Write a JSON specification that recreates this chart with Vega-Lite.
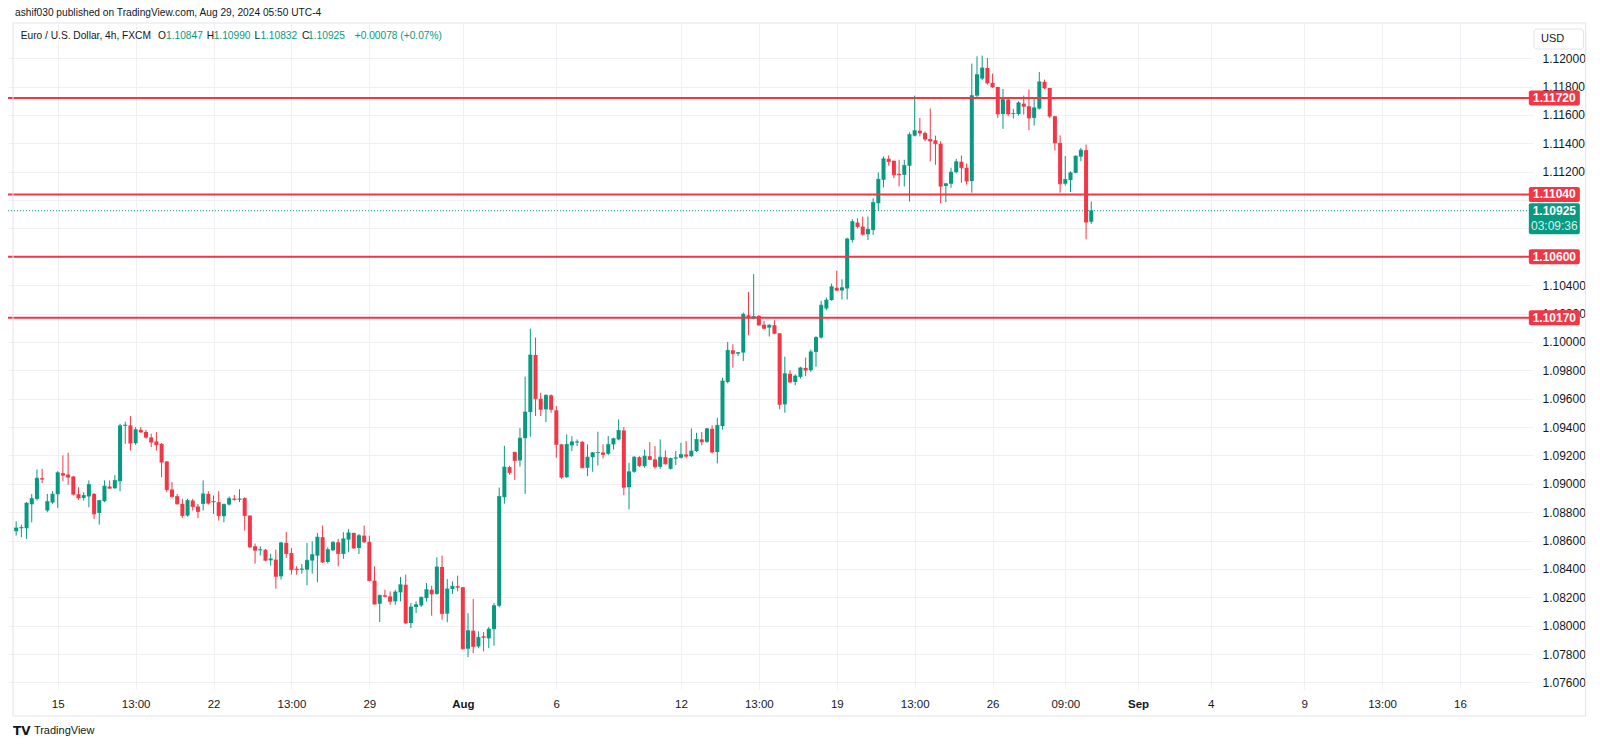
{
  "$schema": "https://vega.github.io/schema/vega-lite/v6.json",
  "width": 1525,
  "height": 666,
  "autosize": {"type": "none"},
  "padding": {"left": 8, "top": 23, "right": 67, "bottom": 58},
  "background": "white",
  "view": {"stroke": null},
  "config": {"font": "Liberation Sans"},
  "datasets": {
    "candles": [
      {"i":-8,"o":1.08666,"h":1.08736,"l":1.08635,"c":1.08689},
      {"i":-7,"o":1.08687,"h":1.08713,"l":1.08624,"c":1.08692},
      {"i":-6,"o":1.08687,"h":1.08871,"l":1.08612,"c":1.08864},
      {"i":-5,"o":1.08856,"h":1.08929,"l":1.08729,"c":1.08896},
      {"i":-4,"o":1.08894,"h":1.09101,"l":1.08882,"c":1.09040},
      {"i":-3,"o":1.09040,"h":1.09106,"l":1.09005,"c":1.09033},
      {"i":-2,"o":1.08812,"h":1.08929,"l":1.08800,"c":1.08875},
      {"i":-1,"o":1.08868,"h":1.08948,"l":1.08859,"c":1.08927},
      {"i":0,"o":1.08927,"h":1.09089,"l":1.08831,"c":1.09078},
      {"i":1,"o":1.09075,"h":1.09200,"l":1.09019,"c":1.09061},
      {"i":2,"o":1.09066,"h":1.09219,"l":1.08993,"c":1.09047},
      {"i":3,"o":1.09052,"h":1.09056,"l":1.08918,"c":1.08927},
      {"i":4,"o":1.08927,"h":1.08976,"l":1.08887,"c":1.08901},
      {"i":5,"o":1.08901,"h":1.08941,"l":1.08882,"c":1.08918},
      {"i":6,"o":1.08911,"h":1.09024,"l":1.08835,"c":1.08995},
      {"i":7,"o":1.08929,"h":1.08935,"l":1.08753,"c":1.08788},
      {"i":8,"o":1.08795,"h":1.08887,"l":1.08713,"c":1.08882},
      {"i":9,"o":1.08878,"h":1.09024,"l":1.08871,"c":1.08984},
      {"i":10,"o":1.08981,"h":1.09024,"l":1.08965,"c":1.08969},
      {"i":11,"o":1.08969,"h":1.09061,"l":1.08965,"c":1.09024},
      {"i":12,"o":1.09019,"h":1.09424,"l":1.08948,"c":1.09409},
      {"i":13,"o":1.09409,"h":1.09438,"l":1.09282,"c":1.09414},
      {"i":14,"o":1.09412,"h":1.09478,"l":1.09235,"c":1.09287},
      {"i":15,"o":1.09287,"h":1.09400,"l":1.09275,"c":1.09381},
      {"i":16,"o":1.09381,"h":1.09400,"l":1.09360,"c":1.09365},
      {"i":17,"o":1.09365,"h":1.09381,"l":1.09318,"c":1.09329},
      {"i":18,"o":1.09327,"h":1.09353,"l":1.09259,"c":1.09294},
      {"i":19,"o":1.09299,"h":1.09365,"l":1.09235,"c":1.09275},
      {"i":20,"o":1.09282,"h":1.09287,"l":1.09047,"c":1.09153},
      {"i":21,"o":1.09158,"h":1.09160,"l":1.08941,"c":1.08958},
      {"i":22,"o":1.08960,"h":1.09012,"l":1.08901,"c":1.08911},
      {"i":23,"o":1.08913,"h":1.08929,"l":1.08854,"c":1.08859},
      {"i":24,"o":1.08859,"h":1.08894,"l":1.08760,"c":1.08776},
      {"i":25,"o":1.08776,"h":1.08894,"l":1.08769,"c":1.08882},
      {"i":26,"o":1.08882,"h":1.08894,"l":1.08812,"c":1.08840},
      {"i":27,"o":1.08840,"h":1.08859,"l":1.08758,"c":1.08805},
      {"i":28,"o":1.08859,"h":1.09024,"l":1.08812,"c":1.08929},
      {"i":29,"o":1.08929,"h":1.08948,"l":1.08854,"c":1.08864},
      {"i":30,"o":1.08871,"h":1.08918,"l":1.08788,"c":1.08875},
      {"i":31,"o":1.08871,"h":1.08948,"l":1.08741,"c":1.08776},
      {"i":32,"o":1.08772,"h":1.08859,"l":1.08729,"c":1.08856},
      {"i":33,"o":1.08854,"h":1.08911,"l":1.08847,"c":1.08896},
      {"i":34,"o":1.08896,"h":1.08922,"l":1.08882,"c":1.08889},
      {"i":35,"o":1.08889,"h":1.08962,"l":1.08871,"c":1.08894},
      {"i":36,"o":1.08899,"h":1.08906,"l":1.08671,"c":1.08776},
      {"i":37,"o":1.08776,"h":1.08778,"l":1.08548,"c":1.08555},
      {"i":38,"o":1.08560,"h":1.08579,"l":1.08438,"c":1.08532},
      {"i":39,"o":1.08532,"h":1.08560,"l":1.08496,"c":1.08536},
      {"i":40,"o":1.08536,"h":1.08541,"l":1.08454,"c":1.08461},
      {"i":41,"o":1.08461,"h":1.08508,"l":1.08424,"c":1.08471},
      {"i":42,"o":1.08466,"h":1.08536,"l":1.08261,"c":1.08348},
      {"i":43,"o":1.08348,"h":1.08591,"l":1.08325,"c":1.08584},
      {"i":44,"o":1.08584,"h":1.08661,"l":1.08478,"c":1.08508},
      {"i":45,"o":1.08513,"h":1.08548,"l":1.08360,"c":1.08395},
      {"i":46,"o":1.08402,"h":1.08419,"l":1.08360,"c":1.08395},
      {"i":47,"o":1.08395,"h":1.08435,"l":1.08367,"c":1.08400},
      {"i":48,"o":1.08395,"h":1.08584,"l":1.08285,"c":1.08461},
      {"i":49,"o":1.08459,"h":1.08595,"l":1.08367,"c":1.08501},
      {"i":50,"o":1.08494,"h":1.08654,"l":1.08306,"c":1.08624},
      {"i":51,"o":1.08624,"h":1.08706,"l":1.08442,"c":1.08449},
      {"i":52,"o":1.08449,"h":1.08553,"l":1.08438,"c":1.08536},
      {"i":53,"o":1.08532,"h":1.08595,"l":1.08525,"c":1.08588},
      {"i":54,"o":1.08588,"h":1.08612,"l":1.08419,"c":1.08508},
      {"i":55,"o":1.08506,"h":1.08659,"l":1.08471,"c":1.08612},
      {"i":56,"o":1.08607,"h":1.08682,"l":1.08518,"c":1.08654},
      {"i":57,"o":1.08654,"h":1.08656,"l":1.08541,"c":1.08548},
      {"i":58,"o":1.08548,"h":1.08647,"l":1.08506,"c":1.08635},
      {"i":59,"o":1.08635,"h":1.08706,"l":1.08584,"c":1.08591},
      {"i":60,"o":1.08591,"h":1.08635,"l":1.08313,"c":1.08318},
      {"i":61,"o":1.08318,"h":1.08419,"l":1.08148,"c":1.08153},
      {"i":62,"o":1.08155,"h":1.08219,"l":1.08026,"c":1.08214},
      {"i":63,"o":1.08214,"h":1.08254,"l":1.08200,"c":1.08207},
      {"i":64,"o":1.08207,"h":1.08242,"l":1.08148,"c":1.08172},
      {"i":65,"o":1.08172,"h":1.08254,"l":1.08148,"c":1.08238},
      {"i":66,"o":1.08235,"h":1.08344,"l":1.08172,"c":1.08289},
      {"i":67,"o":1.08289,"h":1.08360,"l":1.08014,"c":1.08019},
      {"i":68,"o":1.08019,"h":1.08160,"l":1.07984,"c":1.08132},
      {"i":69,"o":1.08132,"h":1.08172,"l":1.08089,"c":1.08148},
      {"i":70,"o":1.08143,"h":1.08207,"l":1.08132,"c":1.08200},
      {"i":71,"o":1.08195,"h":1.08301,"l":1.08172,"c":1.08254},
      {"i":72,"o":1.08254,"h":1.08282,"l":1.08071,"c":1.08224},
      {"i":73,"o":1.08224,"h":1.08482,"l":1.08219,"c":1.08414},
      {"i":74,"o":1.08414,"h":1.08494,"l":1.08042,"c":1.08085},
      {"i":75,"o":1.08085,"h":1.08329,"l":1.08024,"c":1.08259},
      {"i":76,"o":1.08259,"h":1.08313,"l":1.08224,"c":1.08278},
      {"i":77,"o":1.08278,"h":1.08353,"l":1.08242,"c":1.08271},
      {"i":78,"o":1.08271,"h":1.08273,"l":1.07831,"c":1.07838},
      {"i":79,"o":1.07838,"h":1.08089,"l":1.07779,"c":1.07965},
      {"i":80,"o":1.07965,"h":1.08188,"l":1.07807,"c":1.07854},
      {"i":81,"o":1.07854,"h":1.07960,"l":1.07842,"c":1.07918},
      {"i":82,"o":1.07925,"h":1.07955,"l":1.07819,"c":1.07918},
      {"i":83,"o":1.07911,"h":1.07991,"l":1.07842,"c":1.07976},
      {"i":84,"o":1.07976,"h":1.08160,"l":1.07859,"c":1.08141},
      {"i":85,"o":1.08141,"h":1.08974,"l":1.08130,"c":1.08911},
      {"i":86,"o":1.08906,"h":1.09268,"l":1.08860,"c":1.09118},
      {"i":87,"o":1.09118,"h":1.09127,"l":1.09064,"c":1.09080},
      {"i":88,"o":1.09224,"h":1.09228,"l":1.09028,"c":1.09165},
      {"i":89,"o":1.09165,"h":1.09393,"l":1.09122,"c":1.09322},
      {"i":90,"o":1.09322,"h":1.09755,"l":1.08929,"c":1.09506},
      {"i":91,"o":1.09506,"h":1.10094,"l":1.09332,"c":1.09908},
      {"i":92,"o":1.09908,"h":1.10031,"l":1.09478,"c":1.09600},
      {"i":93,"o":1.09600,"h":1.09642,"l":1.09478,"c":1.09525},
      {"i":94,"o":1.09525,"h":1.09631,"l":1.09435,"c":1.09624},
      {"i":95,"o":1.09624,"h":1.09631,"l":1.09501,"c":1.09525},
      {"i":96,"o":1.09518,"h":1.09548,"l":1.09184,"c":1.09278},
      {"i":97,"o":1.09278,"h":1.09282,"l":1.09035,"c":1.09047},
      {"i":98,"o":1.09047,"h":1.09348,"l":1.09042,"c":1.09278},
      {"i":99,"o":1.09271,"h":1.09336,"l":1.09231,"c":1.09296},
      {"i":100,"o":1.09292,"h":1.09313,"l":1.09266,"c":1.09296},
      {"i":101,"o":1.09296,"h":1.09301,"l":1.09110,"c":1.09113},
      {"i":102,"o":1.09113,"h":1.09278,"l":1.09054,"c":1.09188},
      {"i":103,"o":1.09188,"h":1.09224,"l":1.09085,"c":1.09219},
      {"i":104,"o":1.09219,"h":1.09367,"l":1.09129,"c":1.09221},
      {"i":105,"o":1.09221,"h":1.09278,"l":1.09179,"c":1.09207},
      {"i":106,"o":1.09212,"h":1.09336,"l":1.09202,"c":1.09278},
      {"i":107,"o":1.09278,"h":1.09325,"l":1.09242,"c":1.09318},
      {"i":108,"o":1.09313,"h":1.09454,"l":1.09306,"c":1.09376},
      {"i":109,"o":1.09376,"h":1.09400,"l":1.08920,"c":1.08976},
      {"i":110,"o":1.08976,"h":1.09148,"l":1.08819,"c":1.09085},
      {"i":111,"o":1.09085,"h":1.09195,"l":1.09078,"c":1.09188},
      {"i":112,"o":1.09188,"h":1.09195,"l":1.09118,"c":1.09129},
      {"i":113,"o":1.09125,"h":1.09242,"l":1.09113,"c":1.09195},
      {"i":114,"o":1.09195,"h":1.09294,"l":1.09167,"c":1.09172},
      {"i":115,"o":1.09172,"h":1.09266,"l":1.09106,"c":1.09120},
      {"i":116,"o":1.09120,"h":1.09313,"l":1.09106,"c":1.09188},
      {"i":117,"o":1.09188,"h":1.09235,"l":1.09136,"c":1.09141},
      {"i":118,"o":1.09106,"h":1.09184,"l":1.09101,"c":1.09179},
      {"i":119,"o":1.09179,"h":1.09231,"l":1.09132,"c":1.09184},
      {"i":120,"o":1.09184,"h":1.09289,"l":1.09179,"c":1.09207},
      {"i":121,"o":1.09207,"h":1.09301,"l":1.09179,"c":1.09195},
      {"i":122,"o":1.09195,"h":1.09391,"l":1.09190,"c":1.09231},
      {"i":123,"o":1.09231,"h":1.09360,"l":1.09224,"c":1.09313},
      {"i":124,"o":1.09313,"h":1.09365,"l":1.09271,"c":1.09296},
      {"i":125,"o":1.09296,"h":1.09395,"l":1.09289,"c":1.09388},
      {"i":126,"o":1.09388,"h":1.09412,"l":1.09214,"c":1.09224},
      {"i":127,"o":1.09224,"h":1.09466,"l":1.09144,"c":1.09412},
      {"i":128,"o":1.09407,"h":1.09748,"l":1.09383,"c":1.09725},
      {"i":129,"o":1.09718,"h":1.10000,"l":1.09708,"c":1.09941},
      {"i":130,"o":1.09941,"h":1.09984,"l":1.09819,"c":1.09918},
      {"i":131,"o":1.09918,"h":1.09929,"l":1.09901,"c":1.09925},
      {"i":132,"o":1.09925,"h":1.10207,"l":1.09866,"c":1.10195},
      {"i":133,"o":1.10188,"h":1.10353,"l":1.10047,"c":1.10172},
      {"i":134,"o":1.10165,"h":1.10478,"l":1.10160,"c":1.10179},
      {"i":135,"o":1.10184,"h":1.10188,"l":1.10113,"c":1.10120},
      {"i":136,"o":1.10122,"h":1.10148,"l":1.10089,"c":1.10096},
      {"i":137,"o":1.10101,"h":1.10125,"l":1.10038,"c":1.10118},
      {"i":138,"o":1.10118,"h":1.10153,"l":1.10054,"c":1.10061},
      {"i":139,"o":1.10061,"h":1.10063,"l":1.09525,"c":1.09560},
      {"i":140,"o":1.09560,"h":1.09896,"l":1.09501,"c":1.09776},
      {"i":141,"o":1.09776,"h":1.09800,"l":1.09708,"c":1.09718},
      {"i":142,"o":1.09718,"h":1.09772,"l":1.09694,"c":1.09760},
      {"i":143,"o":1.09754,"h":1.09825,"l":1.09742,"c":1.09817},
      {"i":144,"o":1.09817,"h":1.09890,"l":1.09759,"c":1.09801},
      {"i":145,"o":1.09801,"h":1.09947,"l":1.09789,"c":1.09930},
      {"i":146,"o":1.09930,"h":1.10041,"l":1.09825,"c":1.10031},
      {"i":147,"o":1.10031,"h":1.10290,"l":1.10024,"c":1.10259},
      {"i":148,"o":1.10236,"h":1.10313,"l":1.10224,"c":1.10295},
      {"i":149,"o":1.10295,"h":1.10412,"l":1.10290,"c":1.10389},
      {"i":150,"o":1.10382,"h":1.10502,"l":1.10358,"c":1.10365},
      {"i":151,"o":1.10363,"h":1.10441,"l":1.10299,"c":1.10382},
      {"i":152,"o":1.10377,"h":1.10735,"l":1.10299,"c":1.10726},
      {"i":153,"o":1.10719,"h":1.10865,"l":1.10700,"c":1.10848},
      {"i":154,"o":1.10841,"h":1.10872,"l":1.10801,"c":1.10813},
      {"i":155,"o":1.10813,"h":1.10884,"l":1.10749,"c":1.10759},
      {"i":156,"o":1.10759,"h":1.10884,"l":1.10719,"c":1.10794},
      {"i":157,"o":1.10789,"h":1.11013,"l":1.10754,"c":1.10983},
      {"i":158,"o":1.10978,"h":1.11195,"l":1.10926,"c":1.11147},
      {"i":159,"o":1.11143,"h":1.11308,"l":1.11089,"c":1.11291},
      {"i":160,"o":1.11291,"h":1.11315,"l":1.11242,"c":1.11272},
      {"i":161,"o":1.11277,"h":1.11279,"l":1.11155,"c":1.11178},
      {"i":162,"o":1.11185,"h":1.11284,"l":1.11096,"c":1.11178},
      {"i":163,"o":1.11178,"h":1.11284,"l":1.11096,"c":1.11244},
      {"i":164,"o":1.11242,"h":1.11477,"l":1.10990,"c":1.11461},
      {"i":165,"o":1.11454,"h":1.11736,"l":1.11449,"c":1.11489},
      {"i":166,"o":1.11489,"h":1.11579,"l":1.11449,"c":1.11473},
      {"i":167,"o":1.11473,"h":1.11484,"l":1.11414,"c":1.11430},
      {"i":168,"o":1.11430,"h":1.11645,"l":1.11272,"c":1.11416},
      {"i":169,"o":1.11421,"h":1.11454,"l":1.11249,"c":1.11397},
      {"i":170,"o":1.11397,"h":1.11415,"l":1.10978,"c":1.11098},
      {"i":171,"o":1.11099,"h":1.11122,"l":1.10986,"c":1.11115},
      {"i":172,"o":1.11115,"h":1.11228,"l":1.11087,"c":1.11197},
      {"i":173,"o":1.11197,"h":1.11291,"l":1.11188,"c":1.11270},
      {"i":174,"o":1.11270,"h":1.11314,"l":1.11122,"c":1.11228},
      {"i":175,"o":1.11228,"h":1.11258,"l":1.11110,"c":1.11134},
      {"i":176,"o":1.11134,"h":1.11962,"l":1.11052,"c":1.11736},
      {"i":177,"o":1.11736,"h":1.12013,"l":1.11720,"c":1.11884},
      {"i":178,"o":1.11856,"h":1.12018,"l":1.11844,"c":1.11931},
      {"i":179,"o":1.11931,"h":1.12001,"l":1.11814,"c":1.11826},
      {"i":180,"o":1.11826,"h":1.11891,"l":1.11790,"c":1.11797},
      {"i":181,"o":1.11797,"h":1.11799,"l":1.11579,"c":1.11607},
      {"i":182,"o":1.11607,"h":1.11783,"l":1.11502,"c":1.11708},
      {"i":183,"o":1.11708,"h":1.11720,"l":1.11591,"c":1.11607},
      {"i":184,"o":1.11607,"h":1.11643,"l":1.11575,"c":1.11610},
      {"i":185,"o":1.11607,"h":1.11697,"l":1.11596,"c":1.11685},
      {"i":186,"o":1.11680,"h":1.11736,"l":1.11603,"c":1.11661},
      {"i":187,"o":1.11661,"h":1.11779,"l":1.11493,"c":1.11579},
      {"i":188,"o":1.11579,"h":1.11713,"l":1.11525,"c":1.11650},
      {"i":189,"o":1.11645,"h":1.11903,"l":1.11638,"c":1.11833},
      {"i":190,"o":1.11833,"h":1.11849,"l":1.11783,"c":1.11790},
      {"i":191,"o":1.11790,"h":1.11792,"l":1.11579,"c":1.11591},
      {"i":192,"o":1.11591,"h":1.11593,"l":1.11349,"c":1.11403},
      {"i":193,"o":1.11403,"h":1.11455,"l":1.11052,"c":1.11115},
      {"i":194,"o":1.11115,"h":1.11310,"l":1.11103,"c":1.11145},
      {"i":195,"o":1.11141,"h":1.11204,"l":1.11056,"c":1.11192},
      {"i":196,"o":1.11192,"h":1.11314,"l":1.11188,"c":1.11310},
      {"i":197,"o":1.11306,"h":1.11368,"l":1.11274,"c":1.11352},
      {"i":198,"o":1.11352,"h":1.11392,"l":1.10723,"c":1.10845},
      {"i":199,"o":1.10847,"h":1.10990,"l":1.10832,"c":1.10925}
    ],
    "levels": [
      {"level":1.1172,"label":"1.11720"},
      {"level":1.1104,"label":"1.11040"},
      {"level":1.106,"label":"1.10600"},
      {"level":1.1017,"label":"1.10170"}
    ],
    "last": [
      {"price":1.10925,"label":"1.10925","countdown":"03:09:36"}
    ],
    "blank": [{}]
  },
  "layer": [
    {
      "data": {"name": "candles"},
      "mark": {"type": "rule", "strokeWidth": 1},
      "encoding": {
        "x": {
          "field": "i", "type": "quantitative",
          "scale": {"domain": [-8.61, 283.09], "nice": false, "zero": false},
          "axis": {
            "title": null,
            "values": [0,15,30,45,60,78,96,120,135,150,165,180,194,208,222,240,255,270],
            "tickCount": 40,
            "labelExpr": "['15','13:00','22','13:00','29','Aug','6','12','13:00','19','13:00','26','09:00','Sep','4','9','13:00','16'][indexof([0,15,30,45,60,78,96,120,135,150,165,180,194,208,222,240,255,270], datum.value)]",
            "labelFontWeight": {"condition": {"test": "datum.value == 78 || datum.value == 208", "value": "bold"}, "value": "normal"},
            "grid": true, "gridColor": "#eef0f3", "ticks": false, "domain": false,
            "labelFontSize": 11.5, "labelColor": "#131722", "labelPadding": 9,
            "labelOverlap": false, "labelFlush": false
          }
        },
        "y": {
          "field": "l", "type": "quantitative",
          "scale": {"domain": [1.07554, 1.12248], "nice": false, "zero": false},
          "axis": {
            "title": null, "orient": "right",
            "values": [1.076,1.078,1.080,1.082,1.084,1.086,1.088,1.090,1.092,1.094,1.096,1.098,1.100,1.102,1.104,1.106,1.108,1.110,1.112,1.114,1.116,1.118,1.120],
            "tickCount": 40,
            "labelExpr": "indexof([1106,1108,1110], round(datum.value*1000)) >= 0 ? '' : format(datum.value, '.5f')",
            "labelOverlap": false, "labelFlush": false,
            "grid": true, "gridColor": "#eef0f3", "ticks": false, "domain": false,
            "labelFontSize": 12, "labelColor": "#131722", "labelPadding": 9
          }
        },
        "y2": {"field": "h"},
        "color": {"condition": {"test": "datum.c >= datum.o", "value": "#089981"}, "value": "#f23645"}
      }
    },
    {
      "data": {"name": "candles"},
      "mark": {"type": "bar", "size": 4},
      "encoding": {
        "x": {"field": "i", "type": "quantitative", "title": null},
        "y": {"field": "o", "type": "quantitative", "title": null},
        "y2": {"field": "c"},
        "color": {"condition": {"test": "datum.c >= datum.o", "value": "#089981"}, "value": "#f23645"}
      }
    },
    {
      "data": {"name": "candles"},
      "mark": {"type": "tick", "orient": "horizontal", "size": 4, "thickness": 1},
      "encoding": {
        "x": {"field": "i", "type": "quantitative", "title": null},
        "y": {"field": "c", "type": "quantitative", "title": null},
        "color": {"condition": {"test": "datum.c >= datum.o", "value": "#089981"}, "value": "#f23645"}
      }
    },
    {
      "data": {"name": "levels"},
      "mark": {"type": "rule", "color": "#f23645", "strokeWidth": 2},
      "encoding": {
        "y": {"field": "level", "type": "quantitative", "title": null}
      }
    },
    {
      "data": {"name": "last"},
      "mark": {"type": "rule", "color": "#089981", "strokeWidth": 1, "strokeDash": [1, 2]},
      "encoding": {
        "y": {"field": "price", "type": "quantitative", "title": null}
      }
    },
    {
      "data": {"name": "levels"},
      "mark": {"type": "tick", "orient": "vertical", "size": 15, "thickness": 51, "color": "#f23645", "cornerRadius": 2, "opacity": 1},
      "encoding": {
        "x": {"datum": 288.16},
        "y": {"field": "level", "type": "quantitative", "title": null}
      }
    },
    {
      "data": {"name": "levels"},
      "mark": {"type": "text", "color": "white", "fontSize": 12, "fontWeight": "bold", "align": "center", "baseline": "middle"},
      "encoding": {
        "x": {"datum": 288.16},
        "y": {"field": "level", "type": "quantitative", "title": null},
        "text": {"field": "label"}
      }
    },
    {
      "data": {"name": "last"},
      "mark": {"type": "tick", "orient": "vertical", "size": 31, "thickness": 51, "color": "#089981", "cornerRadius": 2, "yOffset": 8, "opacity": 1},
      "encoding": {
        "x": {"datum": 288.16},
        "y": {"field": "price", "type": "quantitative", "title": null}
      }
    },
    {
      "data": {"name": "last"},
      "mark": {"type": "text", "color": "white", "fontSize": 12, "fontWeight": "bold", "align": "center", "baseline": "middle"},
      "encoding": {
        "x": {"datum": 288.16},
        "y": {"field": "price", "type": "quantitative", "title": null},
        "text": {"field": "label"}
      }
    },
    {
      "data": {"name": "last"},
      "mark": {"type": "text", "color": "#d9f2ee", "fontSize": 12, "align": "center", "baseline": "middle", "dy": 15},
      "encoding": {
        "x": {"datum": 288.16},
        "y": {"field": "price", "type": "quantitative", "title": null},
        "text": {"field": "countdown"}
      }
    },
    {
      "data": {"name": "blank"},
      "mark": {"type": "rect", "fill": "white", "stroke": "#e0e3eb", "strokeWidth": 1, "cornerRadius": 3},
      "encoding": {
        "x": {"datum": 284.24}, "x2": {"datum": 293.8},
        "y": {"datum": 1.122058}, "y2": {"datum": 1.120648}
      }
    },
    {
      "data": {"name": "blank"},
      "mark": {"type": "text", "text": "USD", "fontSize": 11, "color": "#131722", "align": "left", "baseline": "middle"},
      "encoding": {"x": {"datum": 285.58}, "y": {"datum": 1.121353}}
    },
    {
      "data": {"name": "blank"},
      "mark": {"type": "text", "text": "ashif030 published on TradingView.com, Aug 29, 2024 05:50 UTC-4", "fontSize": 10.2, "color": "#131722", "align": "left", "baseline": "middle"},
      "encoding": {"x": {"datum": -8.22}, "y": {"datum": 1.123186}}
    },
    {
      "data": {"name": "blank"},
      "mark": {"type": "text", "text": "Euro / U.S. Dollar, 4h, FXCM", "fontSize": 10.2, "color": "#131722", "align": "left", "baseline": "middle"},
      "encoding": {"x": {"datum": -7.13}, "y": {"datum": 1.121565}}
    },
    {
      "data": {"name": "blank"},
      "mark": {"type": "text", "text": "O", "fontSize": 10.2, "color": "#131722", "align": "left", "baseline": "middle"},
      "encoding": {"x": {"datum": 19.32}, "y": {"datum": 1.121565}}
    },
    {
      "data": {"name": "blank"},
      "mark": {"type": "text", "text": "1.10847", "fontSize": 10.2, "color": "#089981", "align": "left", "baseline": "middle"},
      "encoding": {"x": {"datum": 20.85}, "y": {"datum": 1.121565}}
    },
    {
      "data": {"name": "blank"},
      "mark": {"type": "text", "text": "H", "fontSize": 10.2, "color": "#131722", "align": "left", "baseline": "middle"},
      "encoding": {"x": {"datum": 28.69}, "y": {"datum": 1.121565}}
    },
    {
      "data": {"name": "blank"},
      "mark": {"type": "text", "text": "1.10990", "fontSize": 10.2, "color": "#089981", "align": "left", "baseline": "middle"},
      "encoding": {"x": {"datum": 30.03}, "y": {"datum": 1.121565}}
    },
    {
      "data": {"name": "blank"},
      "mark": {"type": "text", "text": "L", "fontSize": 10.2, "color": "#131722", "align": "left", "baseline": "middle"},
      "encoding": {"x": {"datum": 37.87}, "y": {"datum": 1.121565}}
    },
    {
      "data": {"name": "blank"},
      "mark": {"type": "text", "text": "1.10832", "fontSize": 10.2, "color": "#089981", "align": "left", "baseline": "middle"},
      "encoding": {"x": {"datum": 39.02}, "y": {"datum": 1.121565}}
    },
    {
      "data": {"name": "blank"},
      "mark": {"type": "text", "text": "C", "fontSize": 10.2, "color": "#131722", "align": "left", "baseline": "middle"},
      "encoding": {"x": {"datum": 47.05}, "y": {"datum": 1.121565}}
    },
    {
      "data": {"name": "blank"},
      "mark": {"type": "text", "text": "1.10925", "fontSize": 10.2, "color": "#089981", "align": "left", "baseline": "middle"},
      "encoding": {"x": {"datum": 48.2}, "y": {"datum": 1.121565}}
    },
    {
      "data": {"name": "blank"},
      "mark": {"type": "text", "text": "+0.00078 (+0.07%)", "fontSize": 10.2, "color": "#089981", "align": "left", "baseline": "middle"},
      "encoding": {"x": {"datum": 57.19}, "y": {"datum": 1.121565}}
    },
    {
      "data": {"name": "blank"},
      "mark": {"type": "text", "text": "TV", "font": "DejaVu Sans", "fontSize": 12, "fontWeight": "bold", "color": "#131722", "align": "left", "baseline": "middle"},
      "encoding": {"x": {"datum": -8.61}, "y": {"datum": 1.072582}}
    },
    {
      "data": {"name": "blank"},
      "mark": {"type": "text", "text": "TradingView", "fontSize": 11, "color": "#131722", "align": "left", "baseline": "middle"},
      "encoding": {"x": {"datum": -4.59}, "y": {"datum": 1.072582}}
    },
    {
      "data": {"name": "blank"},
      "mark": {"type": "rect", "fill": null, "fillOpacity": 0, "stroke": "#e0e3eb", "strokeWidth": 1},
      "encoding": {
        "x": {"datum": -8.61}, "x2": {"datum": 294.2},
        "y": {"datum": 1.12248}, "y2": {"datum": 1.07364}
      }
    }
  ]
}
